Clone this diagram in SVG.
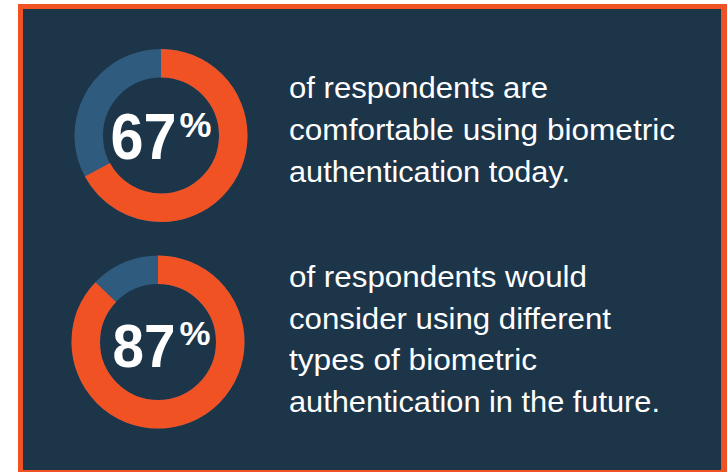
<svg xmlns="http://www.w3.org/2000/svg" width="727" height="472" viewBox="0 0 727 472">
<style>
.frame{fill:#F15224}
.panel{fill:#1D3549}
.track{fill:none;stroke:#2F5B7F;stroke-width:28.5}
.val{fill:none;stroke:#F15224;stroke-width:28.5}
.num{font-family:"Liberation Sans",Arial,sans-serif;font-weight:bold;fill:#FFFFFF}
.body{font-family:"Liberation Sans",Arial,sans-serif;font-size:29px;fill:#FFFFFF}
</style>
<rect width="727" height="472" fill="#FFFFFF"/>
<rect class="frame" x="18" y="4" width="709" height="468"/>
<rect class="panel" x="23" y="9" width="698" height="461"/>
<g id="stat-67">
<circle class="track" cx="161" cy="135.5" r="72.25"/>
<circle class="val" cx="161" cy="135.5" r="72.25" stroke-dasharray="304.15 453.96" transform="rotate(-90 161 135.5)"/>
<text class="num"><tspan x="110.5" y="159" font-size="65" textLength="66" lengthAdjust="spacingAndGlyphs">67</tspan><tspan x="179.5" y="137" font-size="35" textLength="32" lengthAdjust="spacingAndGlyphs">%</tspan></text>
<text class="body"><tspan x="289" y="97.5" textLength="259" lengthAdjust="spacingAndGlyphs">of respondents are</tspan><tspan x="289" y="140" textLength="386" lengthAdjust="spacingAndGlyphs">comfortable using biometric</tspan><tspan x="289" y="182" textLength="281" lengthAdjust="spacingAndGlyphs">authentication today.</tspan></text>
</g>
<g id="stat-87">
<circle class="track" cx="158" cy="342" r="72.25"/>
<circle class="val" cx="158" cy="342" r="72.25" stroke-dasharray="394.95 453.96" transform="rotate(-90 158 342)"/>
<text class="num"><tspan x="112.5" y="367" font-size="62" textLength="63" lengthAdjust="spacingAndGlyphs">87</tspan><tspan x="179.5" y="345" font-size="33" textLength="31" lengthAdjust="spacingAndGlyphs">%</tspan></text>
<text class="body"><tspan x="289" y="286.5" textLength="298" lengthAdjust="spacingAndGlyphs">of respondents would</tspan><tspan x="289" y="328.5" textLength="322" lengthAdjust="spacingAndGlyphs">consider using different</tspan><tspan x="289" y="370" textLength="248" lengthAdjust="spacingAndGlyphs">types of biometric</tspan><tspan x="289" y="411.5" textLength="371" lengthAdjust="spacingAndGlyphs">authentication in the future.</tspan></text>
</g>
</svg>
